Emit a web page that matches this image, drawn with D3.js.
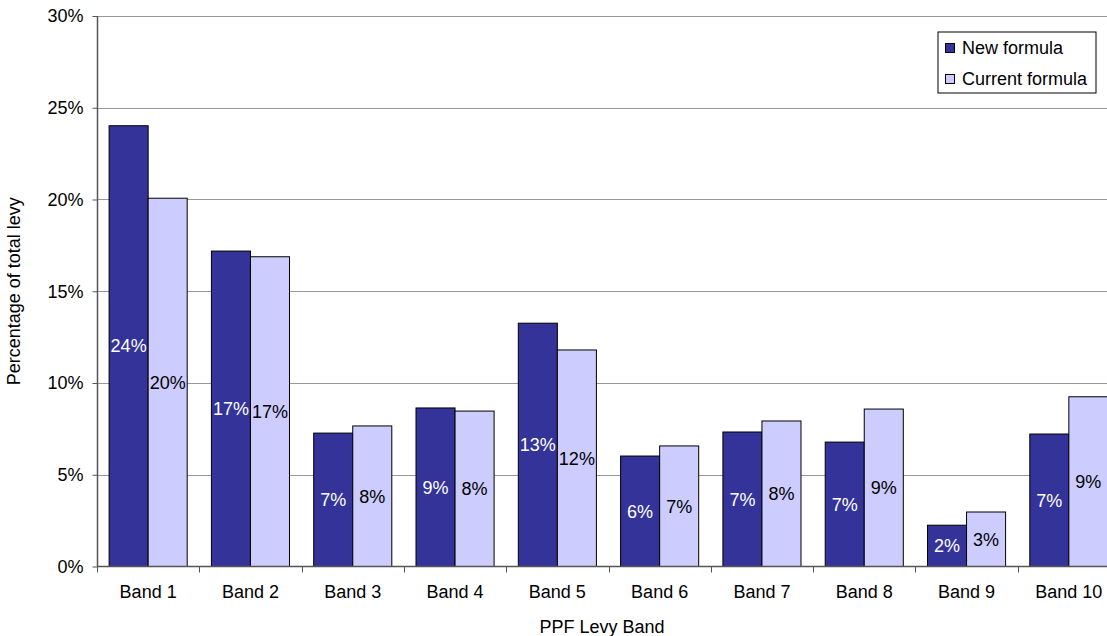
<!DOCTYPE html>
<html>
<head>
<meta charset="utf-8">
<script src="https://cdn.jsdelivr.net/npm/d3@7"></script>
<style>
  html, body { margin: 0; padding: 0; background: #fff; }
  svg { display: block; font-family: "Liberation Sans", Arial, sans-serif; }
</style>
</head>
<body>
<svg id="chart" width="1107" height="636"></svg>
<script>
// PPF levy share by band, new vs current formula
const bands = ["Band 1", "Band 2", "Band 3", "Band 4", "Band 5", "Band 6", "Band 7", "Band 8", "Band 9", "Band 10"];
const newFormula = [0.2402, 0.1719, 0.0727, 0.0864, 0.1326, 0.0602, 0.0733, 0.0678, 0.0225, 0.0722];
const currentFormula = [0.2007, 0.1688, 0.0766, 0.0847, 0.1180, 0.0657, 0.0793, 0.0858, 0.0297, 0.0925];
const seriesNames = ["New formula", "Current formula"];
const yTicks = [0, 0.05, 0.10, 0.15, 0.20, 0.25, 0.30];

const colors = ["#333399", "#CCCCFF"];
const labelColors = ["#ffffff", "#000000"];
const fontSize = 18;

const svg = d3.select("#chart");
const plotLeft = 97, plotTop = 16, plotBottom = 566.5;
const bandW = 102.3;
const plotRight = plotLeft + bandW * bands.length;

const x = d3.scaleBand().domain(bands).range([plotLeft, plotRight]).paddingInner(0).paddingOuter(0);
const inner = d3.scaleBand().domain(seriesNames).range([0, x.bandwidth()]).paddingInner(0).paddingOuter(0.31);
const y = d3.scaleLinear().domain([0, 0.30]).range([plotBottom, plotTop]);

const fmt = d3.format(".0%");

// gridlines
svg.append("g")
  .selectAll("line")
  .data(yTicks.filter(d => d > 0))
  .join("line")
  .attr("x1", plotLeft).attr("x2", plotRight)
  .attr("y1", d => Math.round(y(d)) + 0.5).attr("y2", d => Math.round(y(d)) + 0.5)
  .attr("stroke", "#999").attr("stroke-width", 1);

// bars
const data = bands.map((b, i) => ({ band: b, values: [newFormula[i], currentFormula[i]] }));
const groups = svg.append("g").selectAll("g").data(data).join("g")
  .attr("transform", d => `translate(${x(d.band)},0)`);

groups.selectAll("rect")
  .data(d => d.values.map((v, k) => ({ v, k })))
  .join("rect")
  .attr("x", d => inner(seriesNames[d.k]))
  .attr("width", inner.bandwidth())
  .attr("y", d => y(d.v))
  .attr("height", d => y(0) - y(d.v))
  .attr("fill", d => colors[d.k])
  .attr("stroke", "#000").attr("stroke-width", 1);

groups.selectAll("text")
  .data(d => d.values.map((v, k) => ({ v, k })))
  .join("text")
  .attr("x", d => inner(seriesNames[d.k]) + inner.bandwidth() / 2)
  .attr("y", d => (y(d.v) + y(0)) / 2)
  .attr("dy", "0.35em")
  .attr("text-anchor", "middle")
  .attr("font-size", fontSize)
  .attr("fill", d => labelColors[d.k])
  .text(d => fmt(d.v));

// y axis
const yAxis = d3.axisLeft(y).tickValues(yTicks).tickFormat(fmt).tickSize(5).tickPadding(9);
const gy = svg.append("g").attr("transform", `translate(${plotLeft + 0.5},0)`).call(yAxis);
gy.select(".domain").attr("stroke", "#555").attr("stroke-width", 1.5).attr("d", `M0,${plotTop}V${plotBottom}`);
gy.selectAll(".tick line").attr("stroke", "#555");
gy.selectAll(".tick text").attr("font-size", fontSize).attr("fill", "#000").attr("font-family", "Liberation Sans, Arial, sans-serif");

// x axis
const xAxis = d3.axisBottom(x).tickSize(0).tickPadding(19);
const gx = svg.append("g").attr("transform", `translate(0,${plotBottom})`).call(xAxis);
gx.select(".domain").attr("stroke", "#555").attr("stroke-width", 1.5).attr("d", `M${plotLeft},0H${plotRight}`);
gx.selectAll(".tick text").attr("font-size", fontSize).attr("fill", "#000").attr("font-family", "Liberation Sans, Arial, sans-serif");
// category boundary ticks
svg.append("g").selectAll("line")
  .data(d3.range(bands.length + 1))
  .join("line")
  .attr("x1", i => Math.round(plotLeft + i * bandW) + 0.5).attr("x2", i => Math.round(plotLeft + i * bandW) + 0.5)
  .attr("y1", plotBottom).attr("y2", plotBottom + 6)
  .attr("stroke", "#555").attr("stroke-width", 1);

// axis titles
svg.append("text")
  .attr("transform", `translate(20,${(plotTop + plotBottom) / 2}) rotate(-90)`)
  .attr("text-anchor", "middle")
  .attr("font-size", fontSize)
  .text("Percentage of total levy");

svg.append("text")
  .attr("x", 602).attr("y", 633)
  .attr("text-anchor", "middle")
  .attr("font-size", fontSize)
  .text("PPF Levy Band");

// legend
const lg = svg.append("g").attr("transform", "translate(938,32)");
lg.append("rect").attr("width", 158).attr("height", 61)
  .attr("fill", "#fff").attr("stroke", "#000").attr("stroke-width", 1);
seriesNames.forEach((name, i) => {
  const cy = 16 + i * 31;
  lg.append("rect").attr("x", 7.5).attr("y", cy - 4.5).attr("width", 9).attr("height", 9)
    .attr("fill", colors[i]).attr("stroke", "#000").attr("stroke-width", 1);
  lg.append("text").attr("x", 24).attr("y", cy).attr("dy", "0.35em")
    .attr("font-size", fontSize).text(name);
});
</script>
</body>
</html>
